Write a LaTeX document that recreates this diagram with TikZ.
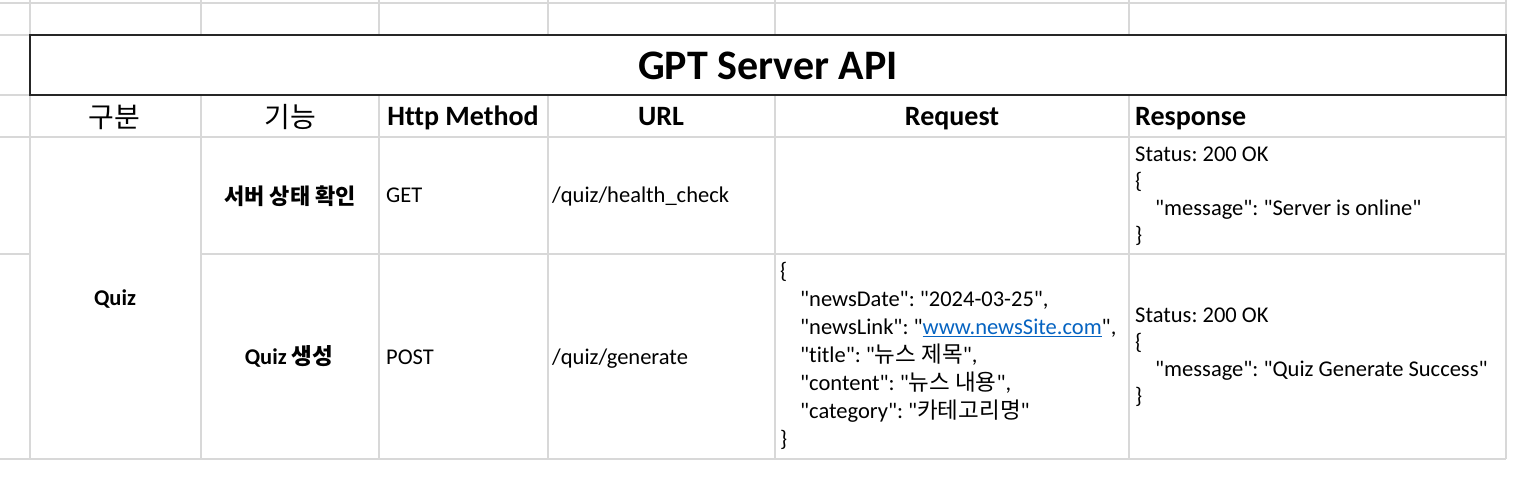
\documentclass[tikz,border=0pt]{standalone}
\usepackage{fontspec}
\setmainfont{Carlito}[Ligatures={TeXOff,CommonOff}]
\newfontfamily\kr{Noto Sans CJK KR}
\frenchspacing
\definecolor{gridgray}{RGB}{216,216,216}
\definecolor{linkblue}{RGB}{5,99,193}
\newcommand{\ind}{\hspace*{20pt}}
\tikzset{gridline/.style={line width=1.4pt,gridgray},
         titlebox/.style={line width=2pt,black!85},
         headtxt/.style={anchor=base,font=\fontsize{28}{34}\selectfont\bfseries},
         korhead/.style={font=\fontsize{28}{34}\selectfont\kr},
         celltxt/.style={anchor=base west},
         boldtxt/.style={anchor=base,font=\fontsize{22.5}{27}\selectfont\bfseries},
         block/.style={anchor=west,align=left}}

\begin{document}
\begin{tikzpicture}[x=1pt,y=-1pt]
    \tikzstyle{every node}=[inner sep=0pt,font=\fontsize{22.5}{27}\selectfont]
    \useasboundingbox (0,0) rectangle (1539,489);
    % sheet grid
    \foreach \y in {3,35,95,137,459} \draw[gridline] (0,\y) -- (1506,\y);
    \draw[gridline] (0,254) -- (30,254) (201,254) -- (1506,254);
    \foreach \x in {30,201,379,548,775,1129,1506} \draw[gridline] (\x,0) -- (\x,35) (\x,95) -- (\x,459);
    % title
    \draw[titlebox] (30,35) rectangle (1506,95);
    \node[font=\fontsize{42}{50}\selectfont\bfseries] (title) at (768,66) {GPT Server API};
    % header row
    \node[korhead] (gubun) at (114,117) {구분};
    \node[korhead] (func) at (290,117) {기능};
    \node[headtxt] (method) at (463,126) {Http Method};
    \node[headtxt] (url) at (661,126) {URL};
    \node[headtxt] (req) at (952,126) {Request};
    \node[headtxt,anchor=base west] (res) at (1135,126) {Response};
    % rows
    \node[boldtxt] (quiz) at (115,305) {Quiz};
    \node[font=\fontsize{22}{27}\selectfont\bfseries\kr] (health) at (290,196) {서버 상태 확인};
    \node[celltxt] (get) at (386,203) {GET};
    \node[celltxt] (hurl) at (552,203) {/quiz/health\_check};
    \node[block] (hres) at (1135,196) {Status: 200 OK\\ \{\\ \ind "message": "Server is online"\\ \}};
    \node[boldtxt] (gen) at (289,364) {Quiz {\kr 생성}};
    \node[celltxt] (post) at (386,364) {POST};
    \node[celltxt] (gurl) at (552,364) {/quiz/generate};
    \node[block,font=\fontsize{22.5}{28}\selectfont] (greq) at (780,356) {\{\\
        \ind "newsDate": "2024-03-25",\\
        \ind "newsLink": "\textcolor{linkblue}{\underline{www.newsSite.com}}",\\
        \ind "title": "{\kr 뉴스 제목}",\\
        \ind "content": "{\kr 뉴스 내용}",\\
        \ind "category": "{\kr 카테고리명}"\\
        \}};
    \node[block] (gres) at (1135,357) {Status: 200 OK\\ \{\\ \ind "message": "Quiz Generate Success"\\ \}};
\end{tikzpicture}
\end{document}
